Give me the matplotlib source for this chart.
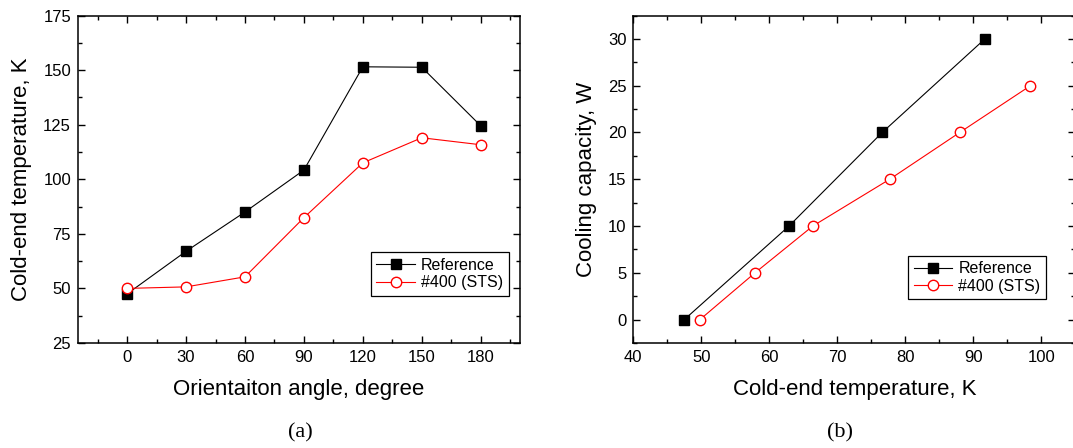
import matplotlib
matplotlib.use("Agg")
import matplotlib.pyplot as plt
from matplotlib.ticker import MultipleLocator

# (a) cold-end temperature vs orientation angle
angle = [0, 30, 60, 90, 120, 150, 180]
temp_ref = [47.5, 67.0, 85.0, 104.2, 151.5, 151.3, 124.5]
temp_sts = [50.0, 50.7, 55.3, 82.4, 107.5, 119.0, 115.8]

# (b) cooling capacity vs cold-end temperature
tc_ref = [47.5, 62.9, 76.6, 91.7]
q_ref = [0, 10, 20, 30]
tc_sts = [49.8, 57.9, 66.4, 77.7, 88.0, 98.4]
q_sts = [0, 5, 10, 15, 20, 25]

labels = ["Reference", "#400 (STS)"]

plt.rcParams["font.family"] = ["Liberation Sans", "DejaVu Sans"]
plt.rcParams["axes.linewidth"] = 1.1

fig = plt.figure(figsize=(10.73, 4.48), dpi=100)
ax_a = fig.add_axes([0.0727, 0.2344, 0.4119, 0.731])
ax_b = fig.add_axes([0.5902, 0.2344, 0.4120, 0.731])


def style(ax):
    ax.tick_params(which="both", direction="in", top=True, right=True,
                   labelsize=12, width=1.0, pad=5)
    ax.tick_params(which="major", length=5)
    ax.tick_params(which="minor", length=3)


def draw(ax, x1, y1, x2, y2, legend_anchor):
    ax.plot(x1, y1, color="black", lw=0.8, marker="s", ms=7,
            mfc="black", mec="black", label=labels[0])
    ax.plot(x2, y2, color="red", lw=0.8, marker="o", ms=7.5,
            mfc="white", mec="red", mew=1.0, label=labels[1])
    leg = ax.legend(loc="lower right", bbox_to_anchor=legend_anchor,
                    borderaxespad=0, fontsize=11.5, fancybox=False,
                    edgecolor="black", framealpha=1, handlelength=2.4,
                    handletextpad=0.4, labelspacing=0.15, borderpad=0.35)
    leg.get_frame().set_linewidth(0.9)


draw(ax_a, angle, temp_ref, angle, temp_sts, (0.975, 0.1435))
ax_a.set_xlim(-25, 200)
ax_a.set_ylim(25, 175)
ax_a.set_xticks(angle)
ax_a.xaxis.set_minor_locator(MultipleLocator(15))
ax_a.yaxis.set_major_locator(MultipleLocator(25))
ax_a.yaxis.set_minor_locator(MultipleLocator(12.5))
ax_a.set_xlabel("Orientaiton angle, degree", fontsize=16, labelpad=10)
ax_a.set_ylabel("Cold-end temperature, K", fontsize=16, labelpad=8)
style(ax_a)

draw(ax_b, tc_ref, q_ref, tc_sts, q_sts, (0.934, 0.134))
ax_b.set_xlim(40, 105)
ax_b.set_ylim(-2.5, 32.5)
ax_b.set_xticks(range(40, 101, 10))
ax_b.xaxis.set_minor_locator(MultipleLocator(5))
ax_b.yaxis.set_major_locator(MultipleLocator(5))
ax_b.yaxis.set_minor_locator(MultipleLocator(2.5))
ax_b.set_xlabel("Cold-end temperature, K", fontsize=16, labelpad=10)
ax_b.set_ylabel("Cooling capacity, W", fontsize=16, labelpad=8)
style(ax_b)

fig.text(300 / 1073, 1 - 433 / 448, "(a)", ha="center", va="center",
         fontsize=16, family="Liberation Serif")
fig.text(840 / 1073, 1 - 433 / 448, "(b)", ha="center", va="center",
         fontsize=16, family="Liberation Serif")

fig.savefig("out.png", dpi=100)
